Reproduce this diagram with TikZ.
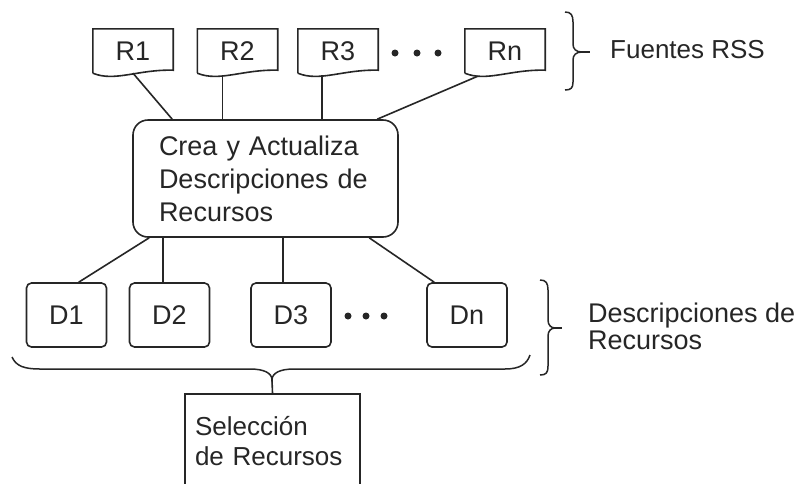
\documentclass[tikz,border=0pt]{standalone}
\usepackage{fontspec}
\setmainfont{Liberation Sans}
\usetikzlibrary{calc}
\begin{document}
\begin{tikzpicture}[x=1pt,y=-1pt,
  txt/.style={font=\fontsize{26}{31}\selectfont, text=black!85},
  lbl/.style={font=\fontsize{27}{31}\selectfont, text=black!85},
  link/.style={draw=black!85, line width=1.6pt},
  rbox/.style={minimum width=80pt, minimum height=44pt, inner sep=0pt, lbl},
  dbox/.style={draw=black!85, line width=1.6pt, rounded corners=5pt, minimum width=80pt, minimum height=64pt, inner sep=0pt, lbl},
  dot/.style={circle, fill=black!85, inner sep=0pt, minimum size=7pt},
  bracepath/.style={draw=black!85, line width=1.5pt}]
\clip (0,0) rectangle (798,483);
\fill[white] (0,0) rectangle (798,483);

% RSS sources (document shapes)
\node[rbox] (R1) at (133,51) {R1};
\node[rbox] (R2) at (237.5,51) {R2};
\node[rbox] (R3) at (338,51) {R3};
\node[rbox] (Rn) at (505,51) {Rn};
\foreach \n in {R1,R2,R3,Rn}
  \draw[link] (\n.south west) -- (\n.north west) -- (\n.north east) -- ($(\n.south east)+(0,-3)$)
     .. controls +(-35,-1) and +(22,9) .. (\n.south west);
\node[dot] (rd1) at (395,53) {};
\node[dot] (rd2) at (417,53) {};
\node[dot] (rd3) at (438,53) {};

% central process
\node[draw=black!85, line width=1.6pt, rounded corners=15pt, minimum width=265pt, minimum height=117pt,
      text width=213pt, inner xsep=26pt, align=left, txt, font=\fontsize{27}{33}\selectfont]
      (C) at (265.5,178.5) {Crea y Actualiza\\Descripciones de\\Recursos};

\draw[link] (R1.south) -- ($(C.north west)+(40,0)$);
\draw[link] ($(R2.south west)+(25,2)$) coordinate (r2b) -- (r2b |- C.north);
\draw[link] ($(R3.south west)+(24,2)$) coordinate (r3b) -- (r3b |- C.north);
\draw[link] ($(Rn.south west)+(13,3)$) -- ($(C.north west)+(245,0)$);

% descriptions
\node[dbox] (D1) at (66.5,315) {D1};
\node[dbox] (D2) at (169.5,315) {D2};
\node[dbox] (D3) at (291,315) {D3};
\node[dbox] (Dn) at (467,315) {Dn};
\node[dot] (dd1) at (348,316) {};
\node[dot] (dd2) at (366,316) {};
\node[dot] (dd3) at (384,316) {};

\draw[link] ($(C.south west)+(17,0)$) -- ($(D1.north west)+(53,0)$);
\draw[link] ($(D2.north west)+(34,0)$) coordinate (d2t) -- (d2t |- C.south);
\draw[link] ($(D3.north west)+(33,0)$) coordinate (d3t) -- (d3t |- C.south);
\draw[link] ($(C.south west)+(237,0)$) -- ($(Dn.north west)+(8,0)$);

% selection
\node[draw=black!85, line width=1.6pt, minimum width=175pt, minimum height=94pt, text width=155pt,
      inner xsep=10pt, align=left, anchor=north, txt, font=\fontsize{26}{30}\selectfont]
      (S) at (272.5,393) {Selección\\de Recursos};

% bottom brace
\draw[bracepath] (12,357) .. controls (16,366) and (24,369) .. (40,369) -- (250,369)
   .. controls (264,369) and (272,373) .. (272,380)
   .. controls (272,373) and (280,369) .. (294,369) -- (505,369)
   .. controls (520,369) and (527,364) .. (530,355);
\coordinate (btip) at (272,380);
\draw[link] (btip) -- (S.north);

% right braces
\draw[bracepath] (565,12) .. controls (571,12) and (573,15) .. (573,22) -- (573,44)
   .. controls (573,49) and (576,52) .. (582,52)
   .. controls (576,52) and (573,55) .. (573,60) -- (573,82)
   .. controls (573,88) and (571,90) .. (565,90);
\draw[bracepath] (582,52) -- (590,52);
\node[txt, anchor=west, inner sep=0pt] (F) at (610,50) {Fuentes RSS};

\draw[bracepath] (540,280) .. controls (546,280) and (548,283) .. (548,290) -- (548,320)
   .. controls (548,325) and (551,328) .. (555,328)
   .. controls (551,328) and (548,331) .. (548,336) -- (548,366)
   .. controls (548,373) and (546,375) .. (540,375);
\draw[bracepath] (555,328) -- (562,328);
\node[txt, anchor=west, align=left, inner sep=0pt, font=\fontsize{27}{27}\selectfont] (DR) at (588,326.5) {Descripciones de\\Recursos};
\end{tikzpicture}
\end{document}
